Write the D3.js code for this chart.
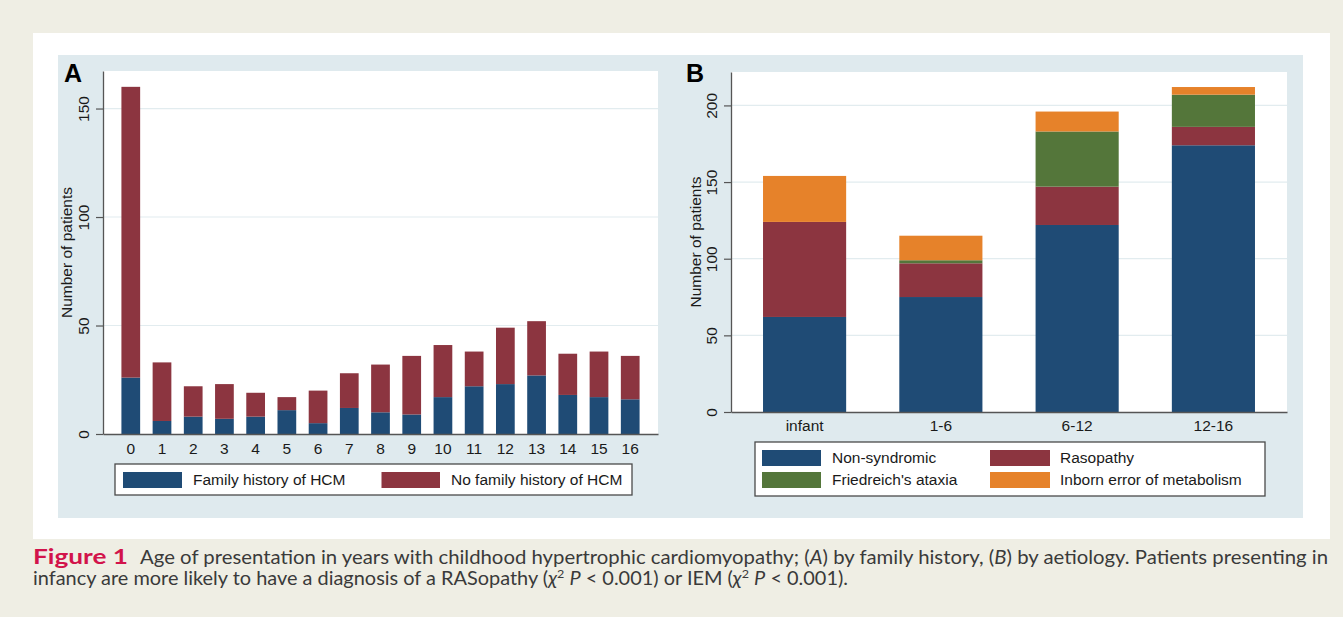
<!DOCTYPE html>
<html>
<head>
<meta charset="utf-8">
<script src="https://cdn.jsdelivr.net/npm/d3@7"></script>
<style>
  html, body { margin: 0; padding: 0; background: #efeee4; }
  svg { display: block; }
</style>
</head>
<body>
<svg id="chart" width="1343" height="617"></svg>
<script>
// ---------------- DATA ----------------
// Panel A: age at presentation (years)
const ageCategories = ["0","1","2","3","4","5","6","7","8","9","10","11","12","13","14","15","16"];
const familyHistory   = [26, 6, 8, 7, 8, 11, 5, 12, 10, 9, 17, 22, 23, 27, 18, 17, 16];
const noFamilyHistory = [134, 27, 14, 16, 11, 6, 15, 16, 22, 27, 24, 16, 26, 25, 19, 21, 20];
const seriesA = ["Family history of HCM", "No family history of HCM"];
const ticksA = [0, 50, 100, 150];

// Panel B: aetiology by age group
const ageGroups = ["infant", "1-6", "6-12", "12-16"];
const nonSyndromic = [62, 75, 122, 174];
const rasopathy    = [62, 22, 25, 12];
const friedreich   = [0, 2, 36, 21];
const inbornError  = [30, 16, 13, 5];
const seriesB = ["Non-syndromic", "Rasopathy", "Friedreich's ataxia", "Inborn error of metabolism"];
const ticksB = [0, 50, 100, 150, 200];

const yTitle = "Number of patients";

// ---------------- STYLE ----------------
const C = {
  beige: "#efeee4", white: "#ffffff", region: "#dfeaee", grid: "#e2ecef",
  axis: "#555555", text: "#1a1a1a",
  blue: "#1f4b75", red: "#8c3540", green: "#54763a", orange: "#e6822a",
  crimson: "#d2134b", caption: "#3a3a3a"
};
const FONT = "'Liberation Sans', Arial, Helvetica, sans-serif";
const FS = 15.5;

const svg = d3.select("#chart");

// backgrounds
svg.append("rect").attr("x", 0).attr("y", 0).attr("width", 1343).attr("height", 617).attr("fill", C.beige);
svg.append("rect").attr("x", 33).attr("y", 33).attr("width", 1297).attr("height", 506).attr("fill", C.white);
svg.append("rect").attr("x", 58).attr("y", 55).attr("width", 1245).attr("height", 463).attr("fill", C.region);

function drawPanel(cfg) {
  const { left, right, top, bottom, yMax, ticks, cats, layers, colors,
          pInner, pOuter, letter, letterX, titleX, labelPad } = cfg;
  const g = svg.append("g");
  const x = d3.scaleBand().domain(cats).range([left, right]).paddingInner(pInner).paddingOuter(pOuter);
  const y = d3.scaleLinear().domain([0, yMax]).range([bottom, top]);

  // plot region
  g.append("rect").attr("x", left).attr("y", top).attr("width", right - left).attr("height", bottom - top).attr("fill", C.white);

  // gridlines
  g.selectAll("line.grid").data(ticks.filter(t => t > 0)).join("line")
    .attr("class", "grid")
    .attr("x1", left).attr("x2", right)
    .attr("y1", d => y(d)).attr("y2", d => y(d))
    .attr("stroke", C.grid).attr("stroke-width", 1.2);

  // stacked bars
  const rows = cats.map((c, i) => {
    const o = { cat: c };
    layers.forEach((arr, k) => o["s" + k] = arr[i]);
    return o;
  });
  const keys = layers.map((_, k) => "s" + k);
  const stacked = d3.stack().keys(keys)(rows);
  stacked.forEach((layer, k) => {
    g.append("g").selectAll("rect").data(layer).join("rect")
      .attr("x", d => x(d.data.cat))
      .attr("width", x.bandwidth())
      .attr("y", d => y(d[1]))
      .attr("height", d => Math.max(0, y(d[0]) - y(d[1])))
      .attr("fill", colors[k]);
  });

  // y axis
  const ya = g.append("g").attr("transform", `translate(${left},0)`)
    .call(d3.axisLeft(y).tickValues(ticks).tickSize(7).tickSizeOuter(0));
  ya.select(".domain").attr("stroke", C.axis).attr("stroke-width", 1.3);
  ya.selectAll(".tick line").attr("stroke", C.axis).attr("stroke-width", 1.2);
  ya.selectAll(".tick text")
    .attr("x", 0).attr("dy", 0)
    .attr("transform", "translate(-14,0) rotate(-90)")
    .attr("text-anchor", "middle")
    .attr("fill", C.text).style("font-family", FONT).style("font-size", FS + "px");

  // x axis
  const xa = g.append("g").attr("transform", `translate(0,${bottom})`)
    .call(d3.axisBottom(x).tickSize(0).tickSizeOuter(0).tickPadding(labelPad));
  xa.select(".domain").attr("stroke", C.axis).attr("stroke-width", 1.3);
  xa.selectAll(".tick text").attr("fill", C.text).style("font-family", FONT).style("font-size", FS + "px");

  // y title
  g.append("text")
    .attr("transform", `translate(${titleX},${(top + bottom) / 2}) rotate(-90)`)
    .attr("text-anchor", "middle")
    .attr("fill", C.text).style("font-family", FONT).style("font-size", FS + "px")
    .text(yTitle);

  // panel letter
  g.append("text").attr("x", letterX).attr("y", 81.5)
    .attr("fill", "#000").style("font-family", FONT).style("font-weight", "bold").style("font-size", "25px")
    .text(letter);
}

drawPanel({
  left: 103, right: 658, top: 71, bottom: 434, yMax: 167.3, ticks: ticksA,
  cats: ageCategories, layers: [familyHistory, noFamilyHistory], colors: [C.blue, C.red],
  pInner: 0.4, pOuter: 0.59, letter: "A", letterX: 64, titleX: 72, labelPad: 9
});
drawPanel({
  left: 731, right: 1287, top: 72, bottom: 412, yMax: 221.8, ticks: ticksB,
  cats: ageGroups, layers: [nonSyndromic, rasopathy, friedreich, inbornError],
  colors: [C.blue, C.red, C.green, C.orange],
  pInner: 0.39, pOuter: 0.235, letter: "B", letterX: 686, titleX: 701, labelPad: 8
});

// legends
function legend(box, items) {
  const g = svg.append("g");
  g.append("rect").attr("x", box.x).attr("y", box.y).attr("width", box.w).attr("height", box.h)
    .attr("fill", C.white).attr("stroke", "#4a4a4a").attr("stroke-width", 1.3);
  g.selectAll("rect.sw").data(items).join("rect").attr("class", "sw")
    .attr("x", d => d.sx).attr("y", d => d.sy).attr("width", d => d.sw).attr("height", 16)
    .attr("fill", d => d.color);
  g.selectAll("text").data(items).join("text")
    .attr("x", d => d.tx).attr("y", d => d.sy + 13)
    .attr("fill", C.text).style("font-family", FONT).style("font-size", FS + "px")
    .text(d => d.label);
}
legend({ x: 115, y: 464, w: 517, h: 31 }, [
  { label: seriesA[0], color: C.blue, sx: 123, sy: 472, sw: 59, tx: 193 },
  { label: seriesA[1], color: C.red, sx: 381.5, sy: 472, sw: 58.5, tx: 451 }
]);
legend({ x: 755, y: 442, w: 510, h: 54 }, [
  { label: seriesB[0], color: C.blue, sx: 762, sy: 450, sw: 59, tx: 832 },
  { label: seriesB[1], color: C.red, sx: 990, sy: 450, sw: 60, tx: 1060 },
  { label: seriesB[2], color: C.green, sx: 762, sy: 472, sw: 59, tx: 832 },
  { label: seriesB[3], color: C.orange, sx: 990, sy: 472, sw: 60, tx: 1060 }
]);

// caption
const CF = "Lato, 'Open Sans', sans-serif";
svg.append("text").attr("x", 33).attr("y", 564)
  .attr("textLength", 95).attr("lengthAdjust", "spacingAndGlyphs")
  .attr("fill", C.crimson).style("font-family", CF).style("font-weight", "bold").style("font-size", "20px")
  .text("Figure 1");

const l1 = svg.append("text").attr("x", 140).attr("y", 564)
  .attr("textLength", 1188).attr("lengthAdjust", "spacingAndGlyphs")
  .attr("fill", C.caption).style("font-family", CF).style("font-size", "19px");
l1.append("tspan").text("Age of presentation in years with childhood hypertrophic cardiomyopathy; (");
l1.append("tspan").style("font-style", "italic").text("A");
l1.append("tspan").text(") by family history, (");
l1.append("tspan").style("font-style", "italic").text("B");
l1.append("tspan").text(") by aetiology. Patients presenting in");

const l2 = svg.append("text").attr("x", 33).attr("y", 585)
  .attr("textLength", 815).attr("lengthAdjust", "spacingAndGlyphs")
  .attr("fill", C.caption).style("font-family", CF).style("font-size", "19px");
function chi(t) {
  t.append("tspan").style("font-style", "italic").text("χ");
  t.append("tspan").attr("dy", -7).style("font-size", "12px").text("2");
  t.append("tspan").attr("dy", 7).text(" ");
  t.append("tspan").style("font-style", "italic").text("P");
  t.append("tspan").text(" < 0.001)");
}
l2.append("tspan").text("infancy are more likely to have a diagnosis of a RASopathy (");
chi(l2);
l2.append("tspan").text(" or IEM (");
chi(l2);
l2.append("tspan").text(".");
</script>
</body>
</html>
